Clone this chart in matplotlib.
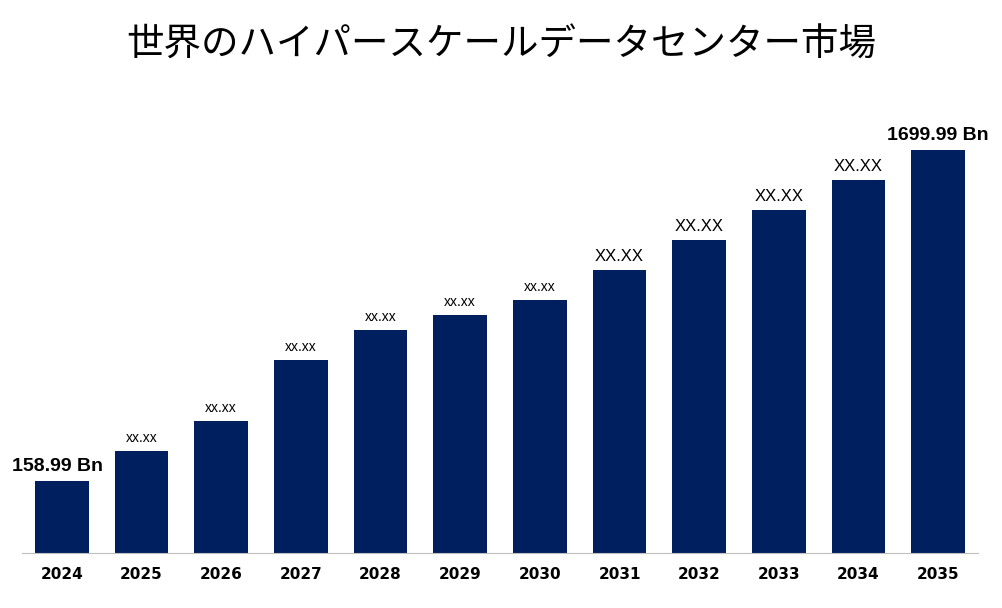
import matplotlib
matplotlib.use("Agg")
import matplotlib.pyplot as plt

years = ["2024","2025","2026","2027","2028","2029","2030","2031","2032","2033","2034","2035"]
values = [304, 430, 557, 814, 941, 1004, 1067, 1194, 1320, 1447, 1573, 1699.99]
labels = ["158.99 Bn","xx.xx","xx.xx","xx.xx","xx.xx","xx.xx","xx.xx","XX.XX","XX.XX","XX.XX","XX.XX","1699.99 Bn"]

fig = plt.figure(figsize=(10.02, 6.08), dpi=100)
ax = fig.add_axes([22/1002, 1-553/608, 956/1002, 453/608])
x = range(len(years))
ax.bar(x, values, width=0.67, color="#001f5f")
ax.set_xlim(-0.5, 11.5)
ax.set_ylim(0, 1700*453/403)
for i, (v, l) in enumerate(zip(values, labels)):
    if i in (0, 11):
        fs, fw = 14, "bold"
    elif i >= 7:
        fs, fw = 12, "normal"
    else:
        fs, fw = 10, "normal"
    if i == 0:
        ax.text(-0.63, v + 25, l, ha="left", va="bottom", fontsize=fs, fontweight=fw,
                family="Liberation Sans", clip_on=False)
    else:
        ax.text(i, v + 25, l, ha="center", va="bottom", fontsize=fs, fontweight=fw,
                family="Liberation Sans")
ax.set_xticks(list(x))
ax.set_xticklabels(years, fontsize=11, fontweight="bold")
ax.tick_params(axis="x", length=0, pad=10)
ax.set_yticks([])
for s in ["top", "right", "left"]:
    ax.spines[s].set_visible(False)
ax.spines["bottom"].set_color("#bfbfbf")
fig.text(0.5, 0.925, "世界のハイパースケールデータセンター市場", ha="center", va="center",
         fontsize=27, family="Noto Sans CJK JP")
fig.savefig("out.png", dpi=100)
